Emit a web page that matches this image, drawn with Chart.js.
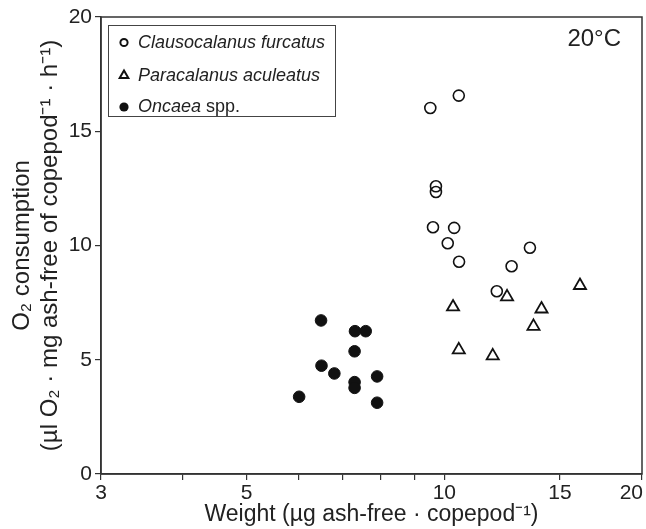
<!DOCTYPE html>
<html lang="en">
<head>
  <meta charset="UTF-8">
  <title>O2 consumption vs weight, 20°C</title>
  <script src="https://cdn.jsdelivr.net/npm/chart.js"></script>
  <style>
    html, body { margin: 0; padding: 0; background: #fff; }
    #wrap { width: 646px; height: 529px; }
  </style>
</head>
<body>
<div id="wrap"><canvas id="chart"></canvas></div>
<script>
  // values
  const clausWeight = [9.52, 10.52, 9.71, 9.71, 9.61, 10.35, 10.12, 10.53, 13.50, 12.66, 12.02];
  const clausO2     = [16.02, 16.56, 12.59, 12.34, 10.80, 10.77, 10.10, 9.29, 9.90, 9.09, 8.00];

  const paraWeight = [10.31, 12.46, 16.09, 14.06, 13.67, 10.52, 11.85];
  const paraO2     = [7.31, 7.75, 8.25, 7.22, 6.46, 5.43, 5.17];

  const oncWeight = [6.49, 7.31, 7.59, 7.30, 6.50, 6.80, 7.30, 7.30, 7.90, 6.01, 7.90];
  const oncO2     = [6.72, 6.25, 6.25, 5.37, 4.74, 4.40, 4.02, 3.77, 4.27, 3.38, 3.12];

  const xTicks = [3, 4, 5, 6, 7, 8, 9, 10, 15, 20];
  const xLabelled = [3, 5, 10, 15];
  const yTicks = [0, 5, 10, 15, 20];

  const FONT = "'Liberation Sans', Arial, Helvetica, sans-serif";
  const INK = '#222';
  const AXIS = '#333';

  const pts = (xs, ys) => xs.map((v, i) => ({ x: v, y: ys[i] }));

  // frame, last x label, temperature note and the legend (mixed italic text)
  const extras = {
    id: 'extras',
    afterDraw(chart) {
      const { ctx, chartArea: a, scales: { x } } = chart;
      ctx.save();
      ctx.strokeStyle = AXIS;
      ctx.lineWidth = 1.5;
      ctx.strokeRect(a.left, a.top, a.right - a.left, a.bottom - a.top);

      ctx.fillStyle = INK;
      ctx.font = '21px ' + FONT;
      ctx.textAlign = 'right';
      ctx.textBaseline = 'middle';
      ctx.fillText('20', x.getPixelForValue(20) + 1, a.bottom + 6 + 1 + 21 * 1.2 / 2);

      ctx.font = '24px ' + FONT;
      ctx.textBaseline = 'alphabetic';
      ctx.fillText('20°C', 621, 46);

      // legend box
      ctx.lineWidth = 1;
      ctx.strokeStyle = '#444';
      ctx.strokeRect(108.5, 25.5, 227, 91);
      const mx = 124, tx = 138;
      const rows = [42.5, 75.5, 107];
      ctx.strokeStyle = '#111';
      ctx.fillStyle = '#111';
      ctx.lineWidth = 2;
      ctx.beginPath(); ctx.arc(mx, rows[0], 3.6, 0, Math.PI * 2); ctx.stroke();
      const r = 5;
      ctx.beginPath();
      ctx.moveTo(mx, rows[1] - r);
      ctx.lineTo(mx + r * Math.sin(2 * Math.PI / 3), rows[1] + r / 2);
      ctx.lineTo(mx - r * Math.sin(2 * Math.PI / 3), rows[1] + r / 2);
      ctx.closePath(); ctx.stroke();
      ctx.beginPath(); ctx.arc(mx, rows[2], 4.6, 0, Math.PI * 2); ctx.fill();

      ctx.fillStyle = INK;
      ctx.textAlign = 'left';
      ctx.textBaseline = 'middle';
      ctx.font = 'italic 18px ' + FONT;
      ctx.fillText('Clausocalanus furcatus', tx, rows[0]);
      ctx.fillText('Paracalanus aculeatus', tx, rows[1]);
      ctx.fillText('Oncaea', tx, rows[2]);
      const w = ctx.measureText('Oncaea ').width;
      ctx.font = '18px ' + FONT;
      ctx.fillText('spp.', tx + w, rows[2]);
      ctx.restore();
    }
  };

  const ctx = document.getElementById('chart').getContext('2d');
  new Chart(ctx, {
    type: 'scatter',
    data: {
      datasets: [
        {
          label: 'Clausocalanus furcatus',
          data: pts(clausWeight, clausO2),
          pointStyle: 'circle',
          pointRadius: 5.5,
          borderWidth: 1.6,
          borderColor: '#111',
          backgroundColor: 'rgba(0,0,0,0)'
        },
        {
          label: 'Paracalanus aculeatus',
          data: pts(paraWeight, paraO2),
          pointStyle: 'triangle',
          pointRadius: 7,
          borderWidth: 1.8,
          borderColor: '#111',
          backgroundColor: 'rgba(0,0,0,0)'
        },
        {
          label: 'Oncaea spp.',
          data: pts(oncWeight, oncO2),
          pointStyle: 'circle',
          pointRadius: 5.8,
          borderWidth: 1,
          borderColor: '#111',
          backgroundColor: '#111'
        }
      ]
    },
    options: {
      responsive: true,
      maintainAspectRatio: false,
      animation: false,
      devicePixelRatio: 1,
      layout: { autoPadding: false, padding: { top: 17, right: 4, left: 0, bottom: 0 } },
      plugins: {
        legend: { display: false },
        tooltip: { enabled: false }
      },
      scales: {
        x: {
          type: 'logarithmic',
          min: 3,
          max: 20,
          afterBuildTicks: s => { s.ticks = xTicks.map(v => ({ value: v })); },
          afterFit: s => { s.height = 55; s.paddingLeft = 0; s.paddingRight = 0; },
          grid: { drawOnChartArea: false, drawTicks: true, tickLength: 6, color: AXIS, lineWidth: 1.2 },
          border: { display: true, color: AXIS, width: 1.5 },
          ticks: {
            autoSkip: false,
            maxRotation: 0,
            padding: 1,
            color: INK,
            font: { family: FONT, size: 21 },
            callback: v => xLabelled.includes(v) ? String(v) : ''
          },
          title: {
            display: true,
            text: 'Weight (µg ash-free · copepod⁻¹)',
            color: INK,
            font: { family: FONT, size: 23 },
            padding: { top: 0, bottom: 1 }
          }
        },
        y: {
          min: 0,
          max: 20,
          afterBuildTicks: s => { s.ticks = yTicks.map(v => ({ value: v })); },
          afterFit: s => { s.width = 101; s.paddingTop = 0; s.paddingBottom = 0; },
          grid: { drawOnChartArea: false, drawTicks: true, tickLength: 6, color: AXIS, lineWidth: 1.2 },
          border: { display: true, color: AXIS, width: 1.5 },
          ticks: {
            padding: 3,
            color: INK,
            font: { family: FONT, size: 21 }
          },
          title: {
            display: true,
            text: ['O₂ consumption', '(µl O₂ · mg ash-free of copepod⁻¹ · h⁻¹)'],
            color: INK,
            font: { family: FONT, size: 24, lineHeight: 1.17 },
            padding: { top: 8, bottom: 0 }
          }
        }
      }
    },
    plugins: [extras]
  });
</script>
</body>
</html>
